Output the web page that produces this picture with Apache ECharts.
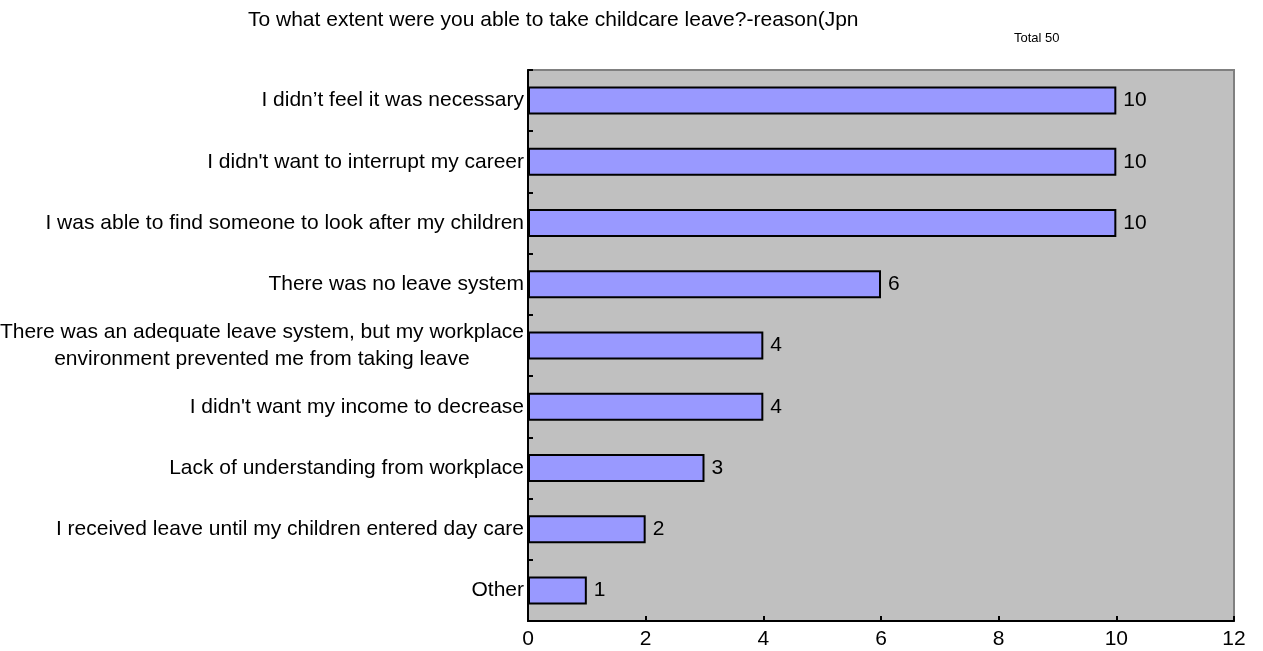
<!DOCTYPE html>
<html>
<head>
<meta charset="utf-8">
<script src="https://cdn.jsdelivr.net/npm/echarts@6/dist/echarts.min.js"></script>
<style>
html,body{margin:0;padding:0;background:#fff;}
#chart{width:1263px;height:651px;}
</style>
</head>
<body>
<div id="chart"></div>
<script>
const titleText = "To what extent were you able to take childcare leave?-reason(Jpn";
const totalText = "Total 50";
const categories = [
  "I didn’t feel it was necessary",
  "I didn't want to interrupt my career",
  "I was able to find someone to look after my children",
  "There was no leave system",
  "There was an adequate leave system, but my workplace\nenvironment prevented me from taking leave",
  "I didn't want my income to decrease",
  "Lack of understanding from workplace",
  "I received leave until my children entered day care",
  "Other"
];
const counts = [10, 10, 10, 6, 4, 4, 3, 2, 1];
const xMin = 0, xMax = 12, xStep = 2;

const FONT = "'Liberation Sans', Arial, sans-serif";
const FS = 21;
const chart = echarts.init(document.getElementById('chart'), null, {renderer: 'canvas'});
chart.setOption({
  animation: false,
  backgroundColor: '#ffffff',
  title: [
    {text: titleText, left: 243, top: 5,
     textStyle: {fontFamily: FONT, fontSize: FS, fontWeight: 'normal', color: '#000'}},
    {text: totalText, left: 1009, top: 27,
     textStyle: {fontFamily: FONT, fontSize: 13, fontWeight: 'normal', color: '#000'}}
  ],
  grid: {left: 528, right: 29, top: 70, bottom: 30, show: true,
         containLabel: false, outerBoundsMode: 'none',
         backgroundColor: '#c0c0c0', borderColor: '#808080', borderWidth: 2},
  xAxis: {
    type: 'value', min: xMin, max: xMax, interval: xStep,
    axisLine: {show: true, lineStyle: {color: '#000', width: 2}},
    axisTick: {show: true, inside: true, length: 5, lineStyle: {color: '#000', width: 2}},
    splitLine: {show: false},
    axisLabel: {fontFamily: FONT, fontSize: FS, color: '#000', margin: 8}
  },
  yAxis: {
    type: 'category', data: categories, inverse: true,
    axisLine: {show: true, lineStyle: {color: '#000', width: 2}},
    axisTick: {show: true, inside: true, length: 5, lineStyle: {color: '#000', width: 2}},
    axisLabel: {
      fontFamily: FONT, fontSize: FS, color: '#000', margin: 4,
      formatter: v => v.split('\n').map(s => '{c|' + s + '}').join('\n'),
      rich: {c: {align: 'center', fontFamily: FONT, fontSize: FS, color: '#000', lineHeight: 27}}
    }
  },
  series: [{
    type: 'bar', data: counts, barWidth: 28,
    itemStyle: {color: '#9999ff', borderColor: '#000', borderWidth: 2},
    label: {show: true, position: 'right', distance: 7,
            fontFamily: FONT, fontSize: FS, color: '#000'}
  }]
});
</script>
</body>
</html>
